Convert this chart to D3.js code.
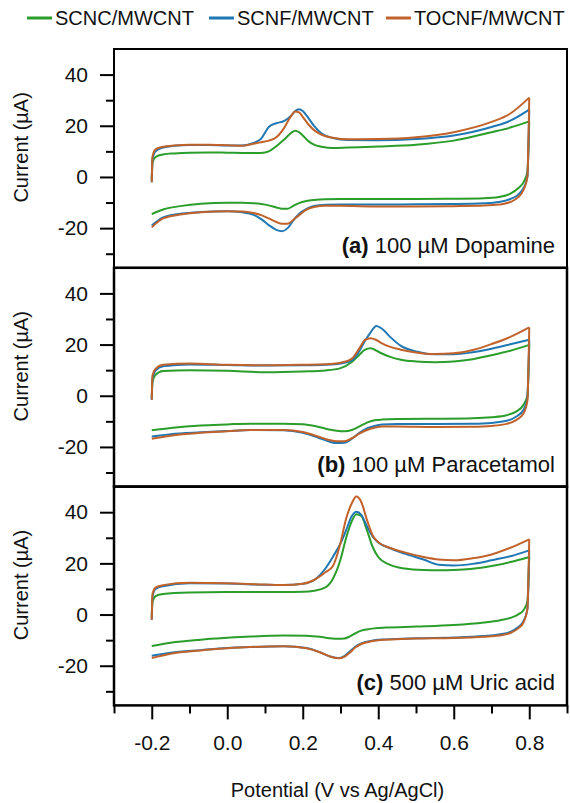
<!DOCTYPE html>
<html>
<head>
<meta charset="utf-8">
<script src="https://cdn.jsdelivr.net/npm/d3@7"></script>
<style>
  body { margin: 0; background: #fff; }
  svg { display: block; font-family: Arial, "Liberation Sans", sans-serif; }
</style>
</head>
<body>
<div id="chart"></div>
<script>
// series names + colours
const seriesNames = ['SCNC/MWCNT', 'SCNF/MWCNT', 'TOCNF/MWCNT'];
const seriesColors = ['#2a9d2a', '#1f77b4', '#c1622b'];

const xTicks = [-0.2, 0.0, 0.2, 0.4, 0.6, 0.8];
const xMinor = [-0.3, -0.1, 0.1, 0.3, 0.5, 0.7, 0.9];
const yTicks = [-20, 0, 20, 40];
const yMinor = [-30, -10, 10, 30];

// ---- (a) 100 uM Dopamine ----
const potFwdA = [-0.2, -0.198, -0.19, -0.17, -0.14, -0.1, -0.05, 0, 0.04, 0.07, 0.09, 0.11, 0.13, 0.15, 0.17, 0.18, 0.19, 0.2, 0.215, 0.23, 0.25, 0.28, 0.32, 0.4, 0.5, 0.6, 0.7, 0.75, 0.8];
const scncFwdA = [-1, 5.5, 7.8, 8.8, 9.2, 9.5, 9.6, 9.5, 9.4, 9.4, 9.4, 10, 12, 14.5, 17.3, 18.1, 17.5, 16.2, 14, 12.6, 11.8, 11.3, 11.5, 11.9, 12.6, 14.2, 17.5, 19.3, 21.7];
const scnfFwdA = [-2.1, 7, 10, 11.5, 12.2, 12.5, 12.5, 12.3, 12.3, 13.3, 15, 19.5, 21, 21.8, 24, 25.8, 26.5, 25.8, 23, 20, 17, 15.2, 14.4, 14.3, 14.8, 16.2, 19.5, 22, 26.3];
const tocnfFwdA = [-2.1, 8, 10.8, 11.8, 12.3, 12.6, 12.6, 12.4, 12.2, 13, 13.6, 14.2, 15.5, 19, 24, 25.6, 25.2, 23.5, 20.5, 18.3, 16.5, 15.3, 14.7, 14.8, 15.5, 17.5, 21.5, 24.8, 31];
const potRevA = [-0.2, -0.17, -0.12, -0.07, 0, 0.04, 0.07, 0.09, 0.11, 0.13, 0.145, 0.16, 0.175, 0.19, 0.21, 0.23, 0.26, 0.3, 0.4, 0.5, 0.6, 0.68, 0.72, 0.75, 0.77, 0.785, 0.795, 0.8];
const scncRevA = [-14.5, -12.7, -11.3, -10.5, -10.1, -10.1, -10.3, -10.6, -11.1, -11.9, -12.4, -12.4, -11.3, -10.2, -9.4, -9.0, -8.7, -8.6, -8.6, -8.6, -8.5, -8.3, -7.8, -6.5, -4.5, -2, 2, 21.7];
const scnfRevA = [-19, -15.8, -14.3, -13.7, -13.4, -13.8, -14.8, -16.5, -18.8, -20.7, -21.2, -20, -17, -14.5, -12.5, -11.3, -10.9, -10.8, -10.8, -10.7, -10.6, -10.3, -9.8, -8.6, -7, -4.3, 0, 26.3];
const tocnfRevA = [-19.7, -16.2, -14.6, -13.8, -13.4, -13.5, -14.1, -14.9, -16.2, -17.6, -18.3, -18.3, -16.8, -15, -12.8, -11.7, -11.3, -11.3, -11.5, -11.5, -11.4, -11.2, -10.8, -9.8, -8, -5, 0, 31];

// ---- (b) 100 uM Paracetamol ----
const potFwdB = [-0.2, -0.198, -0.19, -0.17, -0.1, 0, 0.1, 0.2, 0.26, 0.3, 0.33, 0.35, 0.365, 0.38, 0.395, 0.41, 0.43, 0.46, 0.5, 0.55, 0.6, 0.65, 0.7, 0.75, 0.8];
const scncFwdB = [-1, 5.5, 8.2, 9.7, 10, 9.8, 9.2, 9.5, 9.9, 10.8, 13.2, 16, 18, 18.6, 17.6, 16.5, 15.3, 14.1, 13.4, 13.1, 13.4, 14.3, 15.8, 17.6, 19.9];
const scnfFwdB = [-1.6, 7, 9.8, 11.5, 12.2, 12, 11.8, 11.9, 12.1, 12.6, 13.8, 17.5, 21.5, 24.8, 27.3, 26.2, 23.2, 19.5, 17.3, 16.2, 16.2, 17, 18.4, 20.1, 21.9];
const tocnfFwdB = [-1.6, 8, 10.5, 12.1, 12.6, 12.1, 11.9, 12.1, 12.3, 12.9, 14.5, 18.5, 21.8, 22.5, 21.8, 20.5, 19.2, 18, 16.9, 16.3, 16.6, 17.9, 20.2, 23, 26.7];
const potRevB = [-0.2, -0.15, -0.07, 0, 0.06, 0.15, 0.2, 0.24, 0.27, 0.29, 0.31, 0.33, 0.35, 0.37, 0.39, 0.41, 0.45, 0.55, 0.65, 0.7, 0.74, 0.765, 0.785, 0.795, 0.8];
const scncRevB = [-13.5, -12.6, -11.6, -11.2, -10.9, -10.9, -11.1, -12.1, -13.2, -13.7, -13.9, -13.4, -12, -10.5, -9.6, -9.3, -9.1, -9, -8.8, -8.4, -7.6, -6.2, -3.5, 0, 19.9];
const scnfRevB = [-15.9, -15, -14.3, -13.8, -13.4, -13.5, -14.5, -16.3, -17.9, -18.5, -18.4, -16.8, -14.5, -12.8, -11.8, -11.2, -11, -11, -10.9, -10.6, -9.8, -8.2, -5.5, -1, 21.9];
const tocnfRevB = [-16.8, -15.6, -14.5, -13.9, -13.4, -13.4, -14.2, -15.9, -17.3, -17.8, -17.8, -16.6, -14.8, -13.4, -12.5, -12, -12, -12.2, -12.1, -11.8, -11, -9.5, -6.8, -2, 26.7];

// ---- (c) 500 uM Uric acid ----
const potFwdC = [-0.2, -0.198, -0.19, -0.17, -0.1, 0, 0.1, 0.15, 0.2, 0.23, 0.26, 0.28, 0.3, 0.315, 0.33, 0.342, 0.355, 0.37, 0.385, 0.4, 0.43, 0.47, 0.52, 0.56, 0.6, 0.65, 0.7, 0.75, 0.8];
const scncFwdC = [-1, 5, 7.2, 8, 8.6, 8.8, 8.8, 8.8, 8.9, 9.3, 10.6, 14, 21.5, 30, 36.5, 39.2, 38.5, 33, 26.5, 22.5, 19.5, 18, 17.4, 17.3, 17.4, 17.9, 19, 20.5, 22.5];
const scnfFwdC = [-2, 7, 10, 11.1, 12.2, 12.1, 11.6, 11.5, 12, 13.5, 18, 22.6, 27.8, 33, 38.5, 40.2, 39, 34.5, 30.5, 28.2, 26, 23.8, 21.5, 19.5, 19.2, 19.8, 21.2, 22.8, 25.1];
const tocnfFwdC = [-2, 8, 10.5, 11.5, 12.4, 12.2, 11.7, 11.5, 12, 13.5, 16.5, 19, 28, 37.5, 43.5, 46.1, 44, 37, 31, 28.3, 26.1, 24.3, 22.5, 21.5, 21.2, 22, 23.5, 26.1, 29.4];
const potRevC = [-0.2, -0.15, -0.07, 0, 0.06, 0.15, 0.21, 0.25, 0.275, 0.295, 0.31, 0.325, 0.34, 0.355, 0.37, 0.39, 0.42, 0.5, 0.6, 0.68, 0.72, 0.75, 0.77, 0.785, 0.795, 0.8];
const scncRevC = [-12.3, -11, -9.8, -9.1, -8.6, -8.2, -8.3, -8.8, -9.3, -9.5, -9.4, -8.5, -7.3, -6.3, -5.8, -5.4, -5.1, -4.7, -4.1, -3.1, -2.3, -1.3, 0, 1.8, 5, 22.5];
const scnfRevC = [-16.1, -14.9, -13.9, -13.1, -12.7, -12.4, -13.1, -15, -16.5, -17, -16.2, -14.4, -12.5, -11.3, -10.6, -10, -9.7, -9.3, -9, -8.4, -7.8, -6.8, -5, -2.5, 2, 25.1];
const tocnfRevC = [-17, -15.3, -14, -13.2, -12.7, -12.4, -13.2, -15, -16.5, -17.1, -16.5, -14.8, -12.8, -11.5, -10.8, -10.2, -9.8, -9.4, -9.2, -8.7, -8.2, -7.2, -5.5, -3, 2, 29.4];

const panels = [
  { tag: '(a)', name: '100 µM Dopamine', fwdV: potFwdA, revV: potRevA,
    fwd: [scncFwdA, scnfFwdA, tocnfFwdA], rev: [scncRevA, scnfRevA, tocnfRevA] },
  { tag: '(b)', name: '100 µM Paracetamol', fwdV: potFwdB, revV: potRevB,
    fwd: [scncFwdB, scnfFwdB, tocnfFwdB], rev: [scncRevB, scnfRevB, tocnfRevB] },
  { tag: '(c)', name: '500 µM Uric acid', fwdV: potFwdC, revV: potRevC,
    fwd: [scncFwdC, scnfFwdC, tocnfFwdC], rev: [scncRevC, scnfRevC, tocnfRevC] }
];

const width = 570, height = 803;
const plotL = 114, plotR = 567, plotT = 49, panelH = 218.8;

const svg = d3.select('#chart').append('svg')
  .attr('width', width)
  .attr('height', height);

const x = d3.scaleLinear().domain([-0.3, 0.9]).range([plotL, plotR]);

const line = d3.line()
  .x(d => x(d[0]))
  .y(d => d[2](d[1]))
  .curve(d3.curveMonotoneX);

panels.forEach((p, k) => {
  const y0 = plotT + k * panelH;
  const y = d3.scaleLinear().domain([-35.5, 50]).range([y0 + panelH, y0]);
  const g = svg.append('g');

  // y axis, major + minor
  const ax = g.append('g')
    .attr('transform', `translate(${plotL},0)`)
    .call(d3.axisLeft(y).tickValues(yTicks).tickSize(14).tickPadding(12).tickFormat(d => String(d)));
  const axm = g.append('g')
    .attr('transform', `translate(${plotL},0)`)
    .call(d3.axisLeft(y).tickValues(yMinor).tickSize(8).tickFormat(''));
  [ax, axm].forEach(a => {
    a.select('.domain').remove();
    a.selectAll('line').attr('stroke-width', 2);
    a.selectAll('text').attr('font-size', 21).attr('fill', '#111').attr('font-family', null);
  });

  g.append('text')
    .attr('transform', `translate(28,${y0 + panelH / 2 - 11}) rotate(-90)`)
    .attr('text-anchor', 'middle')
    .attr('font-size', 20)
    .attr('fill', '#111')
    .text('Current (µA)');

  // curves: green, blue, orange on top
  p.fwd.forEach((vals, s) => {
    [[p.fwdV, vals], [p.revV, p.rev[s]]].forEach(([vs, is]) => {
      g.append('path')
        .datum(vs.map((v, i) => [v, is[i], y]))
        .attr('fill', 'none')
        .attr('stroke', seriesColors[s])
        .attr('stroke-width', 2)
        .attr('stroke-linejoin', 'round')
        .attr('d', line);
    });
  });

  g.append('rect')
    .attr('x', plotL).attr('y', y0)
    .attr('width', plotR - plotL).attr('height', panelH)
    .attr('fill', 'none')
    .attr('stroke', '#000')
    .attr('stroke-width', k === 0 ? 2 : 2.5);

  const lab = g.append('text')
    .attr('x', 555)
    .attr('y', y0 + panelH - 15)
    .attr('text-anchor', 'end')
    .attr('font-size', 22)
    .attr('fill', '#111');
  lab.append('tspan').attr('font-weight', 'bold').text(p.tag);
  lab.append('tspan').text(' ' + p.name);
});

// x axis
const yBottom = plotT + 3 * panelH;
const xa = svg.append('g')
  .attr('transform', `translate(0,${yBottom})`)
  .call(d3.axisBottom(x).tickValues(xTicks).tickSize(14).tickPadding(16).tickFormat(d => d.toFixed(1)));
const xam = svg.append('g')
  .attr('transform', `translate(0,${yBottom})`)
  .call(d3.axisBottom(x).tickValues(xMinor).tickSize(8).tickFormat(''));
[xa, xam].forEach(a => {
  a.select('.domain').remove();
  a.selectAll('line').attr('stroke-width', 2);
  a.selectAll('text').attr('font-size', 21).attr('fill', '#111').attr('font-family', null);
});

svg.append('text')
  .attr('x', (plotL + plotR) / 2 - 3)
  .attr('y', 797)
  .attr('text-anchor', 'middle')
  .attr('font-size', 20)
  .attr('fill', '#111')
  .text('Potential (V vs Ag/AgCl)');

// legend
const legX = [27, 209, 386];
const leg = svg.append('g');
seriesNames.forEach((n, i) => {
  leg.append('line')
    .attr('x1', legX[i]).attr('x2', legX[i] + 25)
    .attr('y1', 18).attr('y2', 18)
    .attr('stroke', seriesColors[i])
    .attr('stroke-width', 3);
  leg.append('text')
    .attr('x', legX[i] + 28)
    .attr('y', 25)
    .attr('font-size', 20)
    .attr('fill', '#111')
    .text(n);
});
</script>
</body>
</html>
